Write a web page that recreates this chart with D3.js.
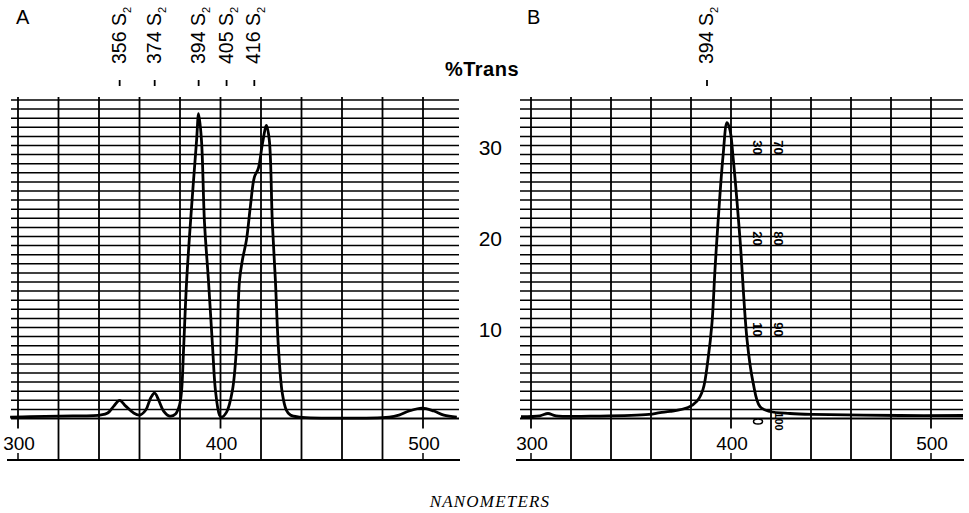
<!DOCTYPE html>
<html>
<head>
<meta charset="utf-8">
<script src="https://cdn.jsdelivr.net/npm/d3@7"></script>
<style>
  body { margin: 0; background: #fff; }
  svg { display: block; }
  text { font-family: "Liberation Sans", Arial, sans-serif; fill: #000; }
</style>
</head>
<body>
<div id="app"></div>
<script>
// Panel A trace (wavelength nm, %Trans)
const aNm = [296.1, 305.9, 320.7, 340.4, 344.3, 347.3, 350.2, 353.2, 357.1, 360.1,
  363.1, 365.5, 367.5, 369.5, 371.9, 374.9, 377.8, 379.8, 380.8, 381.8,
  383.3, 385.7, 388.2, 389.2, 390.6, 392.1, 394.1, 396.1, 397.5, 399.5,
  400.5, 403.0, 405.9, 407.9, 409.4, 410.8, 412.8, 414.8, 416.7, 418.7,
  420.7, 422.7, 424.1, 425.6, 427.1, 428.6, 430.5, 432.5, 434.5, 438.9,
  483.3, 488.2, 493.1, 499.5, 505.4, 510.3, 516.7];
const aTrans = [0.16, 0.2, 0.27, 0.38, 0.6, 1.36, 2.0, 1.36, 0.6, 0.38,
  0.93, 2.25, 2.8, 2.0, 0.82, 0.27, 0.5, 1.5, 3.1, 7.8,
  15.2, 23.2, 30.6, 33.5, 30.6, 21.5, 15.0, 7.8, 3.1, 0.38,
  0.16, 0.7, 3.1, 7.8, 15.2, 17.4, 19.6, 23.4, 26.5, 27.5,
  30.2, 32.2, 30.6, 21.5, 15.2, 7.8, 2.8, 0.93, 0.38, 0.16,
  0.16, 0.38, 0.82, 1.15, 0.82, 0.38, 0.16];

// Panel B trace
const bNm = [295, 304.5, 308.5, 312.5, 334.5, 359, 364.5, 369.5, 378.5, 383,
  386, 388.5, 390.5, 392, 393.5, 396, 398, 399.5, 401, 404.5,
  408, 411, 414.5, 419.5, 429.5, 441, 484.5, 516];
const bTrans = [0.2, 0.3, 0.55, 0.3, 0.27, 0.45, 0.65, 0.77, 1.2, 1.9,
  3.2, 6.5, 10.5, 16.4, 21.5, 28.8, 32.5, 31.7, 28.8, 19.7,
  8.7, 4.0, 1.3, 0.77, 0.55, 0.45, 0.33, 0.33];

// peak annotations
const aPeakLabels = ['356', '374', '394', '405', '416'];
const aPeakNm = [350.2, 367.5, 389.2, 403.0, 416.7];
const bPeakLabels = ['394'];
const bPeakNm = [388];

const xTicks = [300, 400, 500];
const yTicks = [10, 20, 30];
const chartScale = [['30', '70', 30], ['20', '80', 20], ['10', '90', 10]];

const width = 969;
const height = 513;
const gridTop = 97;
const boxBottom = 460;

const y = d3.scaleLinear().domain([0, 35]).range([418.5, 100]);

const svg = d3.select('#app').append('svg')
  .attr('width', width)
  .attr('height', height);

const drawPanel = ({ x, left, right, nm, trans, peakLabels, peakNm, letter, letterX }) => {
  const g = svg.append('g');

  // horizontal chart lines
  g.selectAll('line.h')
    .data(d3.range(0, 36))
    .enter().append('line')
    .attr('x1', left).attr('x2', right)
    .attr('y1', d => y(d)).attr('y2', d => y(d))
    .attr('stroke', '#000')
    .attr('stroke-width', d => d === 0 ? 2 : 1.5);

  // vertical lines every 20 nm
  const verts = d3.range(300, 501, 20);
  g.selectAll('line.v')
    .data(verts)
    .enter().append('line')
    .attr('x1', d => x(d)).attr('x2', d => x(d))
    .attr('y1', gridTop)
    .attr('y2', d => xTicks.includes(d) ? y(0) + 10 : boxBottom)
    .attr('stroke', '#000')
    .attr('stroke-width', 1.8);

  // bottom line of the scale box
  g.append('line')
    .attr('x1', left - 4).attr('x2', right + 1)
    .attr('y1', boxBottom).attr('y2', boxBottom)
    .attr('stroke', '#000').attr('stroke-width', 2);

  // x labels and their little ticks
  g.selectAll('text.xl')
    .data(xTicks)
    .enter().append('text')
    .attr('x', d => x(d) + 1)
    .attr('y', 450)
    .attr('text-anchor', 'middle')
    .style('font-size', '19px')
    .text(d => d);

  g.selectAll('line.xt')
    .data(xTicks)
    .enter().append('line')
    .attr('x1', d => x(d)).attr('x2', d => x(d))
    .attr('y1', 453).attr('y2', boxBottom)
    .attr('stroke', '#000').attr('stroke-width', 1.5);

  // trace
  const line = d3.line()
    .x((d, i) => x(nm[i]))
    .y(d => y(d))
    .curve(d3.curveCatmullRom.alpha(0.5));

  g.append('path')
    .datum(trans)
    .attr('d', line)
    .attr('fill', 'none')
    .attr('stroke', '#000')
    .attr('stroke-width', 2.8)
    .attr('stroke-linejoin', 'round');

  // peak labels (rotated)
  const lab = g.selectAll('g.peak')
    .data(peakLabels)
    .enter().append('g')
    .attr('transform', (d, i) => `translate(${x(peakNm[i]) + 6},64) rotate(-90)`);

  const t = lab.append('text')
    .style('font-size', '19.5px');
  t.append('tspan').text(d => `${d} S`);
  t.append('tspan')
    .attr('dy', 5)
    .style('font-size', '11px')
    .text('2');

  g.selectAll('line.pt')
    .data(peakNm)
    .enter().append('line')
    .attr('x1', d => x(d)).attr('x2', d => x(d))
    .attr('y1', 80).attr('y2', 86)
    .attr('stroke', '#000').attr('stroke-width', 1.8);

  // panel letter
  g.append('text')
    .attr('x', letterX)
    .attr('y', 24)
    .style('font-size', '20px')
    .text(letter);
};

const xA = d3.scaleLinear().domain([300, 500]).range([18, 423]);
const xB = d3.scaleLinear().domain([300, 500]).range([531, 931]);

drawPanel({ x: xA, left: 11, right: 459, nm: aNm, trans: aTrans,
  peakLabels: aPeakLabels, peakNm: aPeakNm, letter: 'A', letterX: 16 });
drawPanel({ x: xB, left: 520, right: 963, nm: bNm, trans: bTrans,
  peakLabels: bPeakLabels, peakNm: bPeakNm, letter: 'B', letterX: 527 });

// %Trans axis between panels
svg.append('text')
  .attr('x', 482)
  .attr('y', 76)
  .attr('text-anchor', 'middle')
  .style('font-size', '20px')
  .style('font-weight', 'bold')
  .style('letter-spacing', '0.5px')
  .text('%Trans');

svg.selectAll('text.yl')
  .data(yTicks)
  .enter().append('text')
  .attr('x', 502)
  .attr('y', d => y(d) + 9)
  .attr('text-anchor', 'end')
  .style('font-size', '21px')
  .text(d => d);

// printed scale numbers on the chart paper (panel B)
chartScale.forEach(([a, b, v]) => {
  [[a, 758], [b, 779]].forEach(([s, cx]) => {
    svg.append('text')
      .attr('transform', `translate(${cx - 5},${y(v) + 2}) rotate(90)`)
      .attr('text-anchor', 'middle')
      .style('font-size', '13px')
      .style('font-weight', 'bold')
      .text(s);
  });
});
svg.append('text')
  .attr('transform', `translate(775,${y(0) + 3}) rotate(90)`)
  .attr('text-anchor', 'middle')
  .style('font-size', '11px')
  .style('font-weight', 'bold')
  .text('100');
svg.append('ellipse')
  .attr('cx', 758).attr('cy', y(0) + 3)
  .attr('rx', 4.5).attr('ry', 2.5)
  .attr('fill', '#fff').attr('stroke', '#000').attr('stroke-width', 1.5);

svg.append('text')
  .attr('x', 490)
  .attr('y', 507)
  .attr('text-anchor', 'middle')
  .style('font-family', '"Liberation Serif", "DejaVu Serif", serif')
  .style('font-style', 'italic')
  .style('font-size', '17px')
  .style('letter-spacing', '1.2px')
  .text('NANOMETERS');
</script>
</body>
</html>
